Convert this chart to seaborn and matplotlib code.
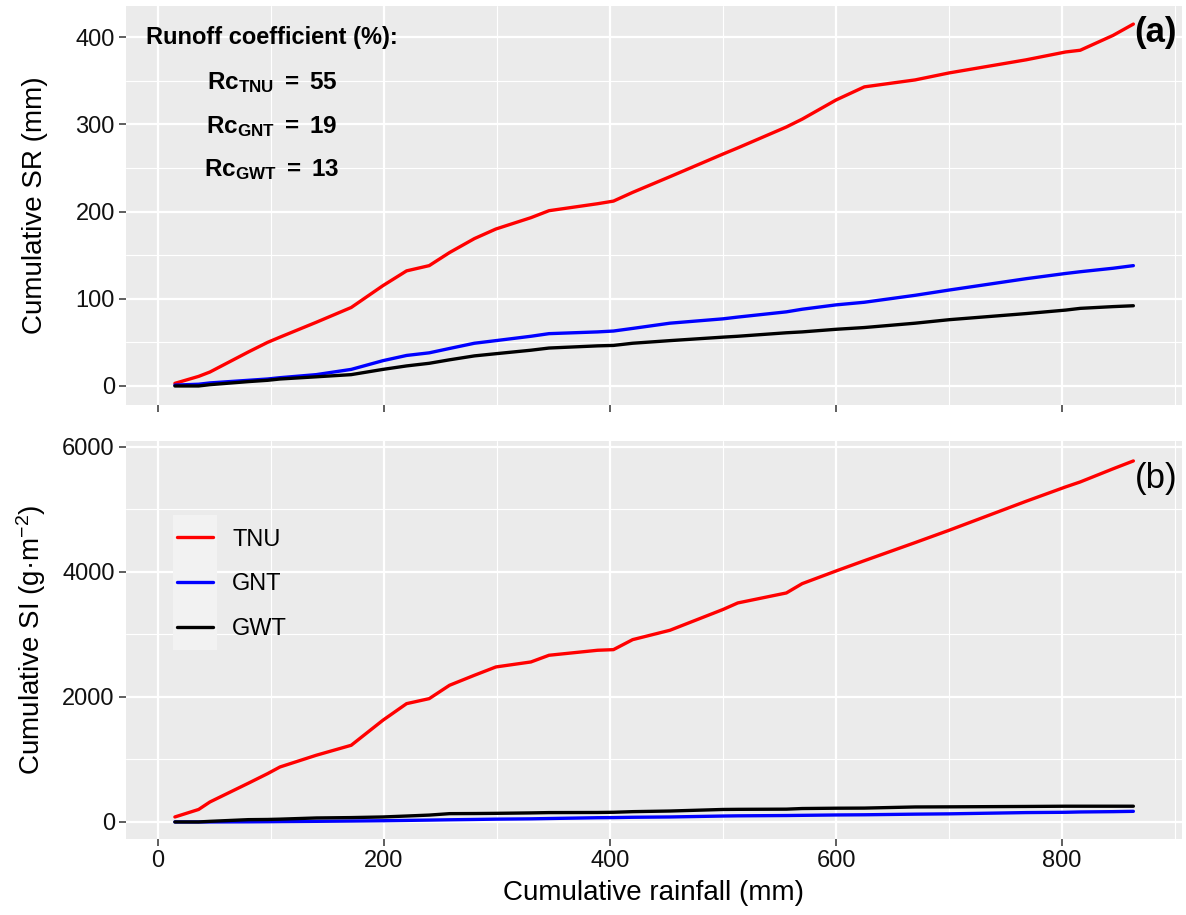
import matplotlib
matplotlib.use('Agg')
import matplotlib.pyplot as plt
import seaborn as sns
import numpy as np
import pandas as pd
from matplotlib.ticker import MultipleLocator
from matplotlib.patches import Rectangle

# cumulative rainfall (mm) at each event
rainfall = [15, 36, 46, 80, 97, 108, 140, 171, 199, 220, 240, 258, 280, 299, 330, 346, 389,
            403, 420, 453, 500, 513, 556, 570, 600, 625, 670, 700, 768, 803, 816, 845, 863]

# cumulative surface runoff (mm)
sr_tnu = [3, 11, 16, 39, 50, 56, 73, 90, 115, 132, 138, 153, 169, 180, 193, 201, 209,
          212, 222, 240, 266, 273, 297, 306, 328, 343, 351, 359, 374, 383, 385, 402, 415]
sr_gnt = [1, 2, 3.5, 6.5, 8, 9.5, 13, 19, 29, 35, 38, 43, 49, 52, 57, 60, 62,
          63, 66, 72, 77, 79, 85, 88, 93, 96, 104, 110, 123, 129, 131, 135, 138]
sr_gwt = [0, 0, 1.5, 5, 6.5, 8, 10.5, 13, 19, 23, 26, 30, 34.5, 37, 41, 43.5, 46,
          46.5, 49, 52, 56, 57, 61, 62, 65, 67, 72, 76, 83, 87, 89, 91, 92]

# cumulative soil loss (g m-2)
si_tnu = [80, 200, 320, 620, 773, 880, 1067, 1227, 1627, 1893, 1973, 2187, 2347, 2480, 2560, 2667, 2747,
          2757, 2917, 3067, 3400, 3504, 3664, 3813, 4016, 4180, 4470, 4667, 5130, 5360, 5440, 5650, 5776]
si_gnt = [0, 0, 0, 2, 4, 6, 10, 15, 20, 25, 30, 35, 40, 45, 50, 55, 68,
          70, 75, 80, 95, 98, 103, 106, 112, 115, 125, 130, 150, 155, 160, 165, 170]
si_gwt = [0, 0, 10, 37, 40, 45, 64, 70, 80, 95, 110, 133, 135, 138, 145, 150, 152,
          155, 165, 175, 200, 202, 205, 215, 220, 222, 240, 242, 248, 252, 252, 252, 252]

treatments = ['TNU', 'GNT', 'GWT']
palette = {'TNU': '#ff0000', 'GNT': '#0000ff', 'GWT': '#000000'}

sns.set_theme(style='darkgrid')
plt.rcParams['font.family'] = ['Liberation Sans', 'DejaVu Sans']
plt.rcParams['text.color'] = 'black'
plt.rcParams['axes.labelcolor'] = 'black'
plt.rcParams['mathtext.fontset'] = 'custom'
plt.rcParams['mathtext.rm'] = 'Liberation Sans'
plt.rcParams['mathtext.it'] = 'Liberation Sans:italic'
plt.rcParams['mathtext.bf'] = 'Liberation Sans:bold'

n = len(rainfall)
sr = pd.DataFrame({'rain': rainfall * 3,
                   'value': sr_tnu + sr_gnt + sr_gwt,
                   'Treatment': np.repeat(treatments, n)})
si = pd.DataFrame({'rain': rainfall * 3,
                   'value': si_tnu + si_gnt + si_gwt,
                   'Treatment': np.repeat(treatments, n)})

fig = plt.figure(figsize=(11.86, 9.15), dpi=100)
ax1 = fig.add_axes([0.1062, 0.5574, 0.8904, 0.4361])
ax2 = fig.add_axes([0.1062, 0.0831, 0.8904, 0.4350])

sns.lineplot(data=sr, x='rain', y='value', hue='Treatment', hue_order=treatments,
             palette=palette, linewidth=2.4, ax=ax1, legend=False)
sns.lineplot(data=si, x='rain', y='value', hue='Treatment', hue_order=treatments,
             palette=palette, linewidth=2.4, ax=ax2)

for ax in (ax1, ax2):
    ax.set_facecolor('#ebebeb')
    for s in ax.spines.values():
        s.set_visible(False)
    ax.set_axisbelow(True)
    ax.xaxis.set_major_locator(MultipleLocator(200))
    ax.xaxis.set_minor_locator(MultipleLocator(100))
    ax.grid(which='major', color='white', linewidth=1.6)
    ax.grid(which='minor', color='white', linewidth=0.8)
    ax.set_xlim(-28.3, 906)
    ax.tick_params(which='major', length=5, width=1.1, color='#333333',
                   labelsize=17, labelcolor='#111111', pad=3, bottom=True, left=True)
    ax.tick_params(which='minor', length=0)

ax1.yaxis.set_major_locator(MultipleLocator(100))
ax1.yaxis.set_minor_locator(MultipleLocator(50))
ax1.set_ylim(-21.8, 435.8)
ax1.tick_params(axis='x', labelbottom=False)
ax1.set_xlabel('')
ax1.set_ylabel('Cumulative SR (mm)', fontsize=20)
ax1.yaxis.set_label_coords(-0.074, 0.5)

ax2.yaxis.set_major_locator(MultipleLocator(2000))
ax2.yaxis.set_minor_locator(MultipleLocator(1000))
ax2.set_ylim(-272, 6096)
ax2.set_xlabel('Cumulative rainfall (mm)', fontsize=20, labelpad=6)
ax2.set_ylabel('Cumulative SI (g\u00b7m$^{-2}$)', fontsize=20)
ax2.yaxis.set_label_coords(-0.074, 0.5)

# annotations
ax1.text(101, 400, 'Runoff coefficient (%):', ha='center', va='center',
         fontsize=17, fontweight='bold')
ax1.text(101, 348, r'$\mathbf{Rc_{TNU}\ =\ 55}$', ha='center', va='center', fontsize=17.5)
ax1.text(101, 298, r'$\mathbf{Rc_{GNT}\ =\ 19}$', ha='center', va='center', fontsize=17.5)
ax1.text(101, 248, r'$\mathbf{Rc_{GWT}\ =\ 13}$', ha='center', va='center', fontsize=17.5)
ax1.text(864, 405, '(a)', ha='left', va='center', fontsize=25, fontweight='bold')
ax2.text(864, 5500, '(b)', ha='left', va='center', fontsize=25)

# legend
handles, labels = ax2.get_legend_handles_labels()
ax2.get_legend().remove()
ax2.add_patch(Rectangle((0.0445, 0.475), 0.0417, 0.339, transform=ax2.transAxes,
                        facecolor='#f2f2f2', edgecolor='none', zorder=1))
leg = ax2.legend(handles, labels, loc='upper left', bbox_to_anchor=(0.048, 0.78),
                 frameon=False, fontsize=17, handlelength=1.55, handletextpad=0.8,
                 labelspacing=0.96, borderpad=0, borderaxespad=0)
for h in leg.get_lines():
    h.set_linewidth(2.4)

fig.savefig('out.png', dpi=100)
